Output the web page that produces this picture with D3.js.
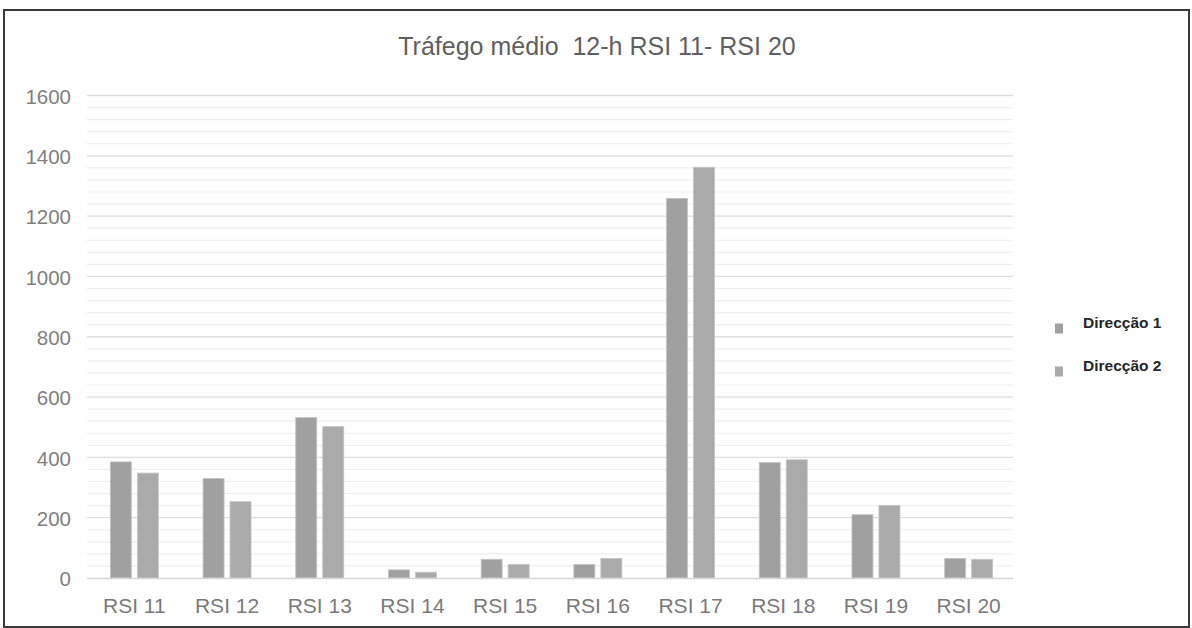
<!DOCTYPE html>
<html>
<head>
<meta charset="utf-8">
<script src="https://cdn.jsdelivr.net/npm/d3@7"></script>
<style>
  html, body { margin: 0; padding: 0; background: #fff; }
  svg { display: block; }
</style>
</head>
<body>
<svg id="chart" width="1192" height="628"></svg>
<script>
// Average 12-hour traffic per survey station, both directions
const categories = ["RSI 11", "RSI 12", "RSI 13", "RSI 14", "RSI 15", "RSI 16", "RSI 17", "RSI 18", "RSI 19", "RSI 20"];
const seriesNames = ["Direcção 1", "Direcção 2"];
const direcao1 = [385, 330, 532, 27, 62, 45, 1259, 383, 210, 65];
const direcao2 = [348, 253, 502, 19, 45, 65, 1362, 392, 241, 62];
const yTicks = [0, 200, 400, 600, 800, 1000, 1200, 1400, 1600];
const minorStep = 40;
const titleText = "Tráfego médio  12-h RSI 11- RSI 20";

const colors = ["#a0a0a0", "#aaaaaa"];
const font = "'Liberation Sans', Arial, sans-serif";

const svg = d3.select("#chart");
const plot = { left: 88, right: 1015, top: 95.5, bottom: 578 };

// outer frame
svg.append("rect")
  .attr("x", 4).attr("y", 10)
  .attr("width", 1185).attr("height", 617)
  .attr("fill", "#fff")
  .attr("stroke", "#3a3a3a").attr("stroke-width", 2);

const y = d3.scaleLinear().domain([0, 1600]).range([plot.bottom, plot.top]);
const x0 = d3.scaleBand().domain(categories).range([plot.left, plot.right]).padding(0);
const x1 = d3.scaleBand().domain(seriesNames).range([0, x0.bandwidth()])
  .paddingInner(0.222).paddingOuter(0.828);

// minor gridlines
const minor = d3.range(0, 1600 + 1, minorStep).filter(v => v % 200 !== 0);
svg.append("g").selectAll("line").data(minor).join("line")
  .attr("x1", plot.left - 1).attr("x2", plot.right - 2)
  .attr("y1", d => y(d)).attr("y2", d => y(d))
  .attr("stroke", "#efefef").attr("stroke-width", 1.2);

// major gridlines
svg.append("g").selectAll("line").data(yTicks.filter(v => v > 0)).join("line")
  .attr("x1", plot.left - 1).attr("x2", plot.right - 2)
  .attr("y1", d => y(d)).attr("y2", d => y(d))
  .attr("stroke", "#dedede").attr("stroke-width", 1.3);

// y axis labels
const yAxis = d3.axisLeft(y).tickValues(yTicks).tickSize(0).tickPadding(0).tickFormat(d3.format("d"));
const gy = svg.append("g").attr("transform", `translate(71,0)`).call(yAxis);
gy.select(".domain").remove();
gy.selectAll("text")
  .attr("font-family", font).attr("font-size", 20.5)
  .attr("fill", "#7f7f7f").attr("dy", "0.38em");

// bars
const rows = categories.map((c, i) => ({ cat: c, values: [direcao1[i], direcao2[i]] }));
const groups = svg.append("g").selectAll("g").data(rows).join("g")
  .attr("transform", d => `translate(${x0(d.cat)},0)`);
groups.selectAll("rect")
  .data(d => d.values.map((v, k) => ({ key: seriesNames[k], value: v, k })))
  .join("rect")
  .attr("x", d => x1(d.key))
  .attr("width", x1.bandwidth())
  .attr("y", d => y(d.value))
  .attr("height", d => y(0) - y(d.value))
  .attr("fill", d => colors[d.k])
  .attr("stroke", "#c4c4c4").attr("stroke-width", 0.8);

// baseline
svg.append("line")
  .attr("x1", plot.left - 1).attr("x2", plot.right - 2)
  .attr("y1", y(0) + 0.5).attr("y2", y(0) + 0.5)
  .attr("stroke", "#d6d6d6").attr("stroke-width", 1.5);

// x axis labels
const xAxis = d3.axisBottom(x0).tickSize(0).tickPadding(0);
const gx = svg.append("g").attr("transform", `translate(0,${y(0)})`).call(xAxis);
gx.select(".domain").remove();
gx.selectAll("text")
  .attr("font-family", font).attr("font-size", 21)
  .attr("fill", "#7a7a7a").attr("dy", "1.68em");

// title
svg.append("text")
  .attr("x", 597).attr("y", 55)
  .attr("text-anchor", "middle")
  .attr("font-family", font).attr("font-size", 25)
  .attr("fill", "#5f5f5f")
  .style("white-space", "pre")
  .text(titleText);

// legend
const legend = svg.append("g");
const legendY = [328.5, 371.5];
seriesNames.forEach((name, i) => {
  legend.append("rect")
    .attr("x", 1055).attr("y", legendY[i] - 5)
    .attr("width", 8).attr("height", 10)
    .attr("fill", colors[i]);
  legend.append("text")
    .attr("x", 1083).attr("y", legendY[i] - 0.5)
    .attr("font-family", font).attr("font-size", 15.5).attr("font-weight", "bold")
    .attr("fill", "#262626")
    .text(name);
});
</script>
</body>
</html>
